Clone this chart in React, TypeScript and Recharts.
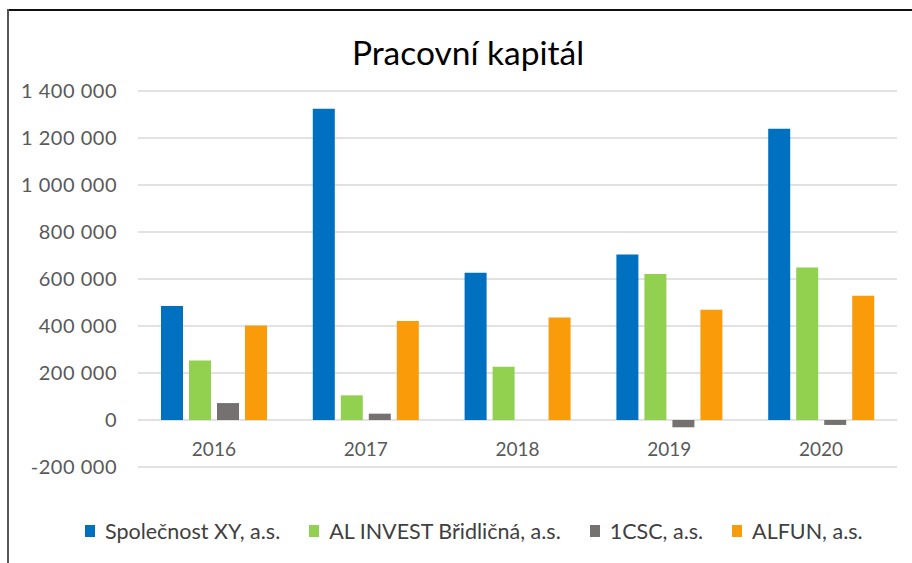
import React from 'react';
import { BarChart, Bar, XAxis, YAxis, CartesianGrid, Legend } from 'recharts';

const years = ['2016', '2017', '2018', '2019', '2020'];
const spolecnostXY = [485000, 1325000, 627000, 704000, 1239000];
const alInvest = [253000, 105000, 227000, 621000, 649000];
const csc = [72000, 27000, 0, -31000, -21000];
const alfun = [402000, 421000, 436000, 469000, 529000];
const yTicks = [-200000, 0, 200000, 400000, 600000, 800000, 1000000, 1200000, 1400000];

const seriesNames = ['Společnost XY, a.s.', 'AL INVEST Břidličná, a.s.', '1CSC, a.s.', 'ALFUN, a.s.'];
const seriesColors = ['#0070C0', '#92D050', '#767171', '#FA9B0A'];

const data = years.map((y, i) => ({
  year: y,
  s0: spolecnostXY[i],
  s1: alInvest[i],
  s2: csc[i],
  s3: alfun[i],
}));

const FONT = 'Lato, "Open Sans", sans-serif';

const fmt = (v: number) => {
  const neg = v < 0;
  const s = String(Math.abs(v)).replace(/\B(?=(\d{3})+(?!\d))/g, '\u00a0');
  return (neg ? '-' : '') + s;
};

const XTick = (props: any) => {
  const { x, y, payload } = props;
  return (
    <text x={x} y={y - 27} textAnchor="middle" dominantBaseline="central" fill="#595959" fontSize={19} fontFamily={FONT}>
      {payload.value}
    </text>
  );
};

const LegendContent = (props: any) => {
  const payload = [...(props.payload || [])].sort(
    (a: any, b: any) => seriesNames.indexOf(a.value) - seriesNames.indexOf(b.value)
  );
  return (
    <div style={{ display: 'flex', alignItems: 'center', fontFamily: FONT, fontSize: 21.5, color: '#404040', whiteSpace: 'nowrap' }}>
      {payload.map((p: any, i: number) => (
        <div key={i} style={{ display: 'flex', alignItems: 'center', marginRight: 29 }}>
          <span style={{ display: 'inline-block', width: 10, height: 12, background: p.color, marginRight: 10 }} />
          <span>{p.value}</span>
        </div>
      ))}
    </div>
  );
};

export default function App() {
  return (
    <div style={{ position: 'absolute', left: 0, top: 0, width: 912, height: 563, background: '#fff', overflow: 'hidden' }}>
      <div style={{ position: 'absolute', left: 7, top: 9, width: 905, height: 2, background: '#111' }} />
      <div style={{ position: 'absolute', left: 7, top: 9, width: 2, height: 554, background: '#555' }} />
      <div style={{ position: 'absolute', left: 0, top: 32, width: 936, textAlign: 'center', fontFamily: FONT, fontSize: 33.5, color: '#000' }}>
        Pracovní kapitál
      </div>
      <div style={{ position: 'absolute', left: 0, top: 0 }}>
        <BarChart width={912} height={563} data={data} margin={{ top: 91, right: 15, bottom: 66, left: 0 }} barGap={6} barSize={22}>
          <CartesianGrid vertical={false} stroke="#D9D9D9" strokeWidth={1.5} />
          <XAxis dataKey="year" axisLine={false} tickLine={false} tick={<XTick />} height={30} interval={0} />
          <YAxis
            domain={[-200000, 1400000]}
            ticks={yTicks}
            axisLine={false}
            tickLine={false}
            width={138}
            tickSize={6}
            tickMargin={15}
            tickFormatter={fmt}
            tick={{ fill: '#595959', fontSize: 20, fontFamily: FONT, letterSpacing: 0.5 }}
            interval={0}
          />
          <Legend
            layout="horizontal"
            verticalAlign="middle"
            align="center"
            wrapperStyle={{ left: 85, top: 518, width: 'auto' }}
            content={<LegendContent />}
          />
          {seriesNames.map((n, i) => (
            <Bar key={n} dataKey={'s' + i} name={n} fill={seriesColors[i]} isAnimationActive={false} />
          ))}
        </BarChart>
      </div>
    </div>
  );
}
